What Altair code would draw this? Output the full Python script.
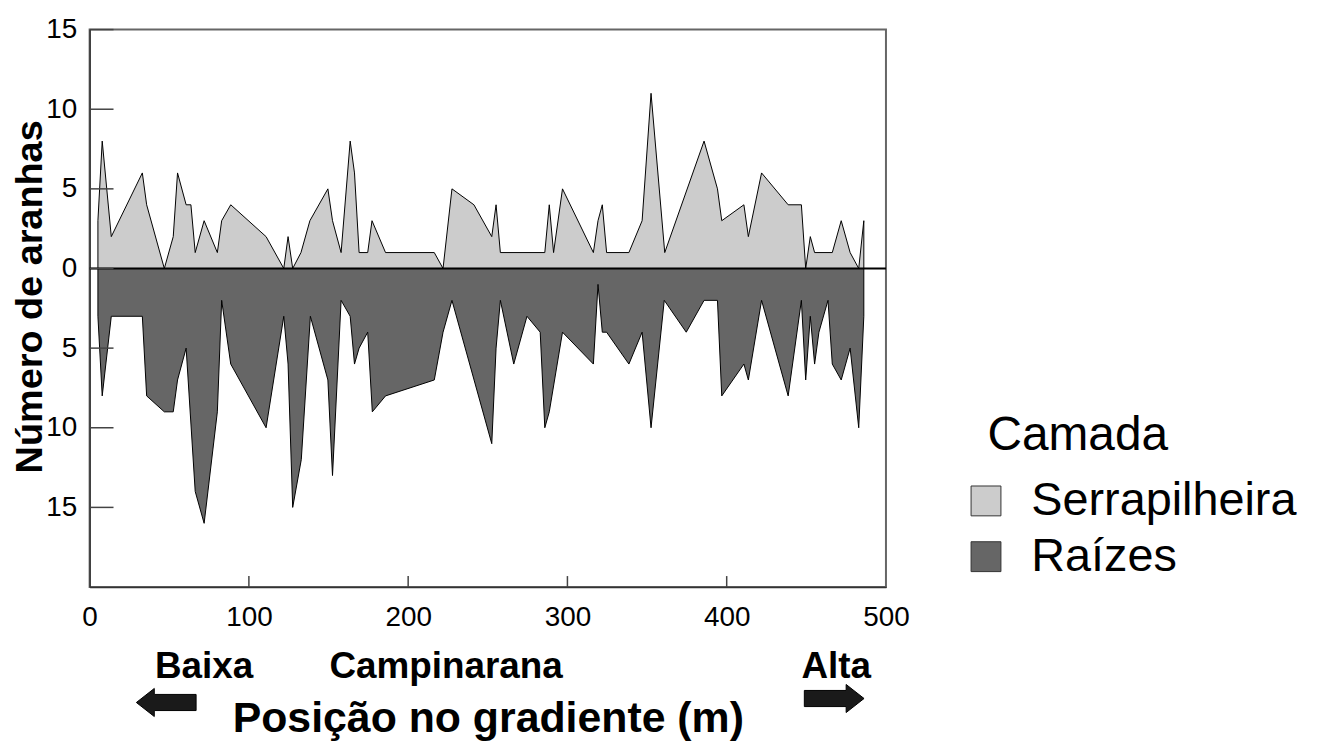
import altair as alt
import pandas as pd

# ---- data ----
serr_x = [5.2, 7.9, 13.6, 33.1, 35.8, 46.9, 52.5, 55.2, 60.6, 63.6, 66.3, 71.9, 80.2, 82.9, 88.6,
          110.8, 121.9, 124.6, 127.5, 132.7, 138.3, 149.6, 152.5, 157.9, 163.6, 166.3, 169.2, 174.6,
          177.3, 185.8, 216.4, 221.9, 227.5, 241.3, 252.5, 255.2, 257.9, 285.8, 288.6, 291.3, 296.9,
          316.3, 319.2, 321.9, 324.6, 338.6, 346.9, 352.5, 361.1, 385.8, 394.2, 396.9, 410.8, 413.6,
          421.9, 438.6, 446.9, 449.6, 452.5, 455.2, 466.3, 471.9, 477.5, 482.9, 486.1]
serr_v = [3, 8, 2, 6, 4, 0, 2, 6, 4, 4, 1, 3, 1, 3, 4, 2, 0, 2, 0, 1, 3, 5, 3, 1, 8, 6, 1, 1, 3, 1,
          1, 0, 5, 4, 2, 4, 1, 1, 4, 1, 5, 1, 3, 4, 1, 1, 3, 11, 1, 8, 5, 3, 4, 2, 6, 4, 4, 0, 2, 1,
          1, 3, 1, 0, 3]

raiz_x = [5.2, 7.9, 13.6, 33.1, 35.8, 46.9, 52.5, 55.2, 60.6, 66.3, 71.9, 80.2, 82.9, 88.6, 110.8,
          121.9, 124.6, 127.5, 132.9, 138.6, 149.6, 152.5, 157.9, 163.6, 166.3, 169.2, 174.6, 177.5,
          185.8, 216.4, 221.9, 227.5, 252.5, 255.2, 257.9, 266.3, 274.6, 282.9, 285.8, 288.6, 296.9,
          316.3, 319.2, 321.9, 324.6, 338.6, 346.9, 352.5, 360.8, 374.6, 385.8, 394.2, 396.9, 410.8,
          413.6, 421.9, 438.6, 446.9, 449.6, 452.5, 455.2, 457.9, 463.6, 466.3, 471.9, 477.5, 482.9,
          486.1]
raiz_v = [3, 8, 3, 3, 8, 9, 9, 7, 5, 14, 16, 9, 2, 6, 10, 3, 6, 15, 12, 3, 7, 13, 2, 3, 6, 5, 4, 9,
          8, 7, 4, 2, 11, 5, 2, 6, 3, 4, 10, 9, 4, 6, 1, 4, 4, 6, 4, 10, 2, 4, 2, 2, 8, 6, 7, 2, 8, 2,
          7, 3, 6, 4, 2, 6, 7, 5, 10, 3]

layers = ["Serrapilheira", "Raízes"]
layer_colors = ["#cccccc", "#666666"]
legend_title = ["Camada"]
y_ticks = [-15, -10, -5, 0, 5, 10, 15]
x_ticks = [0, 100, 200, 300, 400, 500]
x_inner_ticks = [100, 200, 300, 400]
zone_labels = ["Baixa", "Campinarana", "Alta"]
zone_x = [71.9, 223.8, 468.8]
arrow_left_x = [48.1]
arrow_right_x = [467.5]

FONT = "Liberation Sans"

df = pd.concat([
    pd.DataFrame({"x": serr_x, "y": serr_v, "Camada": layers[0]}),
    pd.DataFrame({"x": raiz_x, "y": [-v for v in raiz_v], "Camada": layers[1]}),
])

xscale = alt.Scale(domain=[0, 500], nice=False, zero=False)
yscale = alt.Scale(domain=[-20, 15], nice=False, zero=False)

xaxis = alt.Axis(
    values=x_ticks, ticks=False, tickSize=0, grid=False, labelFontSize=28, labelPadding=17,
    labelFlush=False, labelFont=FONT, labelColor="black", domainColor="#333", domainWidth=1.5,
    title="Posição no gradiente (m)", titleFont=FONT, titleFontSize=43, titleFontWeight="bold",
    titleColor="black", titleX=400, titleY=145, titleAlign="center", titleBaseline="alphabetic")
yaxis = alt.Axis(
    values=y_ticks, labelExpr="abs(datum.value) + ''", ticks=False, tickSize=0, grid=False,
    labelFontSize=28, labelPadding=13, labelFont=FONT, labelColor="black",
    domainColor="#333", domainWidth=1.5,
    title="Número de aranhas", titleFont=FONT, titleFontSize=38, titleFontWeight="bold",
    titleColor="black", titleAngle=270, titleX=-59, titleY=268, titleAlign="center",
    titleBaseline="middle")

X = lambda: alt.X("x:Q", scale=xscale, axis=xaxis, title="Posição no gradiente (m)")
Y = lambda: alt.Y("y:Q", scale=yscale, axis=yaxis, stack=None, title="Número de aranhas")

areas = alt.Chart(df).mark_area(stroke="black", strokeWidth=1, interpolate="linear", opacity=1).encode(
    x=X(), y=Y(),
    color=alt.Color("Camada:N", scale=alt.Scale(domain=layers, range=layer_colors),
                    sort=layers,
                    legend=alt.Legend(
                        orient="none", legendX=877, legendY=450, title=None,
                        labelFont=FONT, labelFontSize=47, labelColor="black", labelLimit=0,
                        symbolType="square", symbolSize=900, symbolStrokeColor="#333",
                        symbolStrokeWidth=1, labelOffset=22, rowPadding=8)),
)

zero_line = alt.Chart(pd.DataFrame({"y": [0]})).mark_rule(color="black", strokeWidth=2).encode(y=Y())

ytick_rules = alt.Chart(pd.DataFrame({"y": y_ticks})).mark_rule(color="#444", strokeWidth=1.5).encode(
    y=Y(), x=alt.value(0), x2=alt.value(24))

xtick_rules = alt.Chart(pd.DataFrame({"x": x_inner_ticks})).mark_rule(color="#444", strokeWidth=1.5).encode(
    x=X(), y=alt.value(549), y2=alt.value(560))

zones = alt.Chart(pd.DataFrame({"x": zone_x, "zl": zone_labels})).mark_text(
    font=FONT, fontSize=37, fontWeight="bold", color="black", baseline="alphabetic", align="center").encode(
    x=X(), y=alt.value(651), text="zl:N")

legend_head = alt.Chart(pd.DataFrame({"t": legend_title})).mark_text(
    font=FONT, fontSize=48, color="black", baseline="alphabetic", align="left").encode(
    x=alt.value(902), y=alt.value(422), text="t:N")

left_path = "M -1 0 L -0.4 -0.47 L -0.4 -0.27 L 1 -0.27 L 1 0.27 L -0.4 0.27 L -0.4 0.47 Z"
right_path = "M 1 0 L 0.4 -0.47 L 0.4 -0.27 L -1 -0.27 L -1 0.27 L 0.4 0.27 L 0.4 0.47 Z"

arrow_l = alt.Chart(pd.DataFrame({"x": arrow_left_x})).mark_point(
    shape=left_path, size=3600, filled=True, fill="#1a1a1a", stroke="black", strokeWidth=1, opacity=1).encode(
    x=X(), y=alt.value(676))

arrow_r = alt.Chart(pd.DataFrame({"x": arrow_right_x})).mark_point(
    shape=right_path, size=3600, filled=True, fill="#1a1a1a", stroke="black", strokeWidth=1, opacity=1).encode(
    x=X(), y=alt.value(672))

chart = alt.layer(areas, zero_line, ytick_rules, xtick_rules, zones, legend_head, arrow_l, arrow_r).properties(
    width=800, height=560,
    padding={"left": 82, "top": 20, "right": 428, "bottom": 155},
    autosize=alt.AutoSizeParams(type="none"),
    background="white",
).configure_view(stroke="#666", strokeWidth=2)

chart.save("out.html", embed_options={"renderer": "svg", "actions": False})
